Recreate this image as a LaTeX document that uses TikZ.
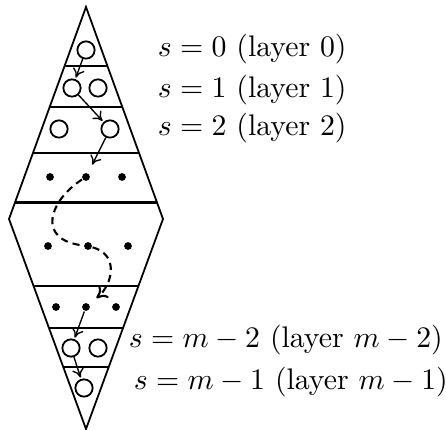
\documentclass[tikz,border=0pt]{standalone}
\usetikzlibrary{calc,positioning,arrows.meta}
\tikzset{
  vtx/.style={draw, circle, minimum size=5.8pt, inner sep=0pt, line width=0.6pt},
  dotv/.style={fill, circle, minimum size=2.6pt, inner sep=0pt},
  lbl/.style={anchor=west, inner sep=0pt},
  lnk/.style={-{To[length=3pt,width=4pt]}, line width=0.45pt, shorten >=0.5pt},
  hop/.style={-{To[length=3.5pt,width=5pt]}, line width=0.7pt, dash pattern=on 2.4pt off 1.7pt, shorten >=3pt}}

\begin{document}
\begin{tikzpicture}[x=0.0118cm, y=-0.0118cm, line width=0.6pt]
\useasboundingbox (0,0) rectangle (446,430);
% outline of the layered network
\coordinate (top) at (86,7);
\coordinate (lft) at (9,219);
\coordinate (rgt) at (163,219);
\coordinate (bot) at (86,429);
\draw[line join=miter] (top) -- (lft) -- (bot) -- (rgt) -- cycle;
\foreach \t in {0.278,0.472,0.689}
  \draw ($(top)!\t!(lft)$) -- ($(top)!\t!(rgt)$);
\draw[line width=1pt] ($(top)!0.92!(lft)$) -- ($(top)!0.92!(rgt)$);
\foreach \t in {0.295,0.481,0.681}
  \draw ($(bot)!\t!(lft)$) -- ($(bot)!\t!(rgt)$);
% nodes per layer
\node[vtx] (c0) at (86,50) {};
\node[vtx] (c1a) at (72,88) {};
\node[vtx] (c1b) at (98,88) {};
\node[vtx] (c2a) at (59,129) {};
\node[vtx] (c2b) at (110,129) {};
\foreach \x/\n in {50/a,86/b,122/c} \node[dotv] (d3\n) at (\x,177) {};
\foreach \x/\n in {48/a,88/b,128/c} \node[dotv] (d4\n) at (\x,246) {};
\foreach \x/\n in {56/a,86/b,116/c} \node[dotv] (d5\n) at (\x,307) {};
\node[vtx] (cm2a) at (71,348) {};
\node[vtx] (cm2b) at (98,348) {};
\node[vtx] (cm1) at (84,388) {};
% path through the layers
\draw[lnk] (c0) -- (c1a);
\draw[lnk] (c1a) -- (c2b);
\draw[lnk, shorten >=3pt] (c2b) -- (d3b);
\draw[hop] (d3b) .. controls (50,200) and (35,240) .. (d4b)
  .. controls (120,255) and (112,285) .. (d5b);
\draw[lnk] (d5b) -- (cm2a);
\draw[lnk] (cm2a) -- (cm1);
% layer labels
\node[lbl] (l0) at (157,49) {$s=0$ (layer 0)};
\node[lbl] (l1) at (157,90) {$s=1$ (layer 1)};
\node[lbl] (l2) at (157,128) {$s=2$ (layer 2)};
\node[lbl] (lm2) at (128,340) {$s=m-2$ (layer $m-2$)};
\node[lbl] (lm1) at (133,382) {$s=m-1$ (layer $m-1$)};
\end{tikzpicture}
\end{document}
